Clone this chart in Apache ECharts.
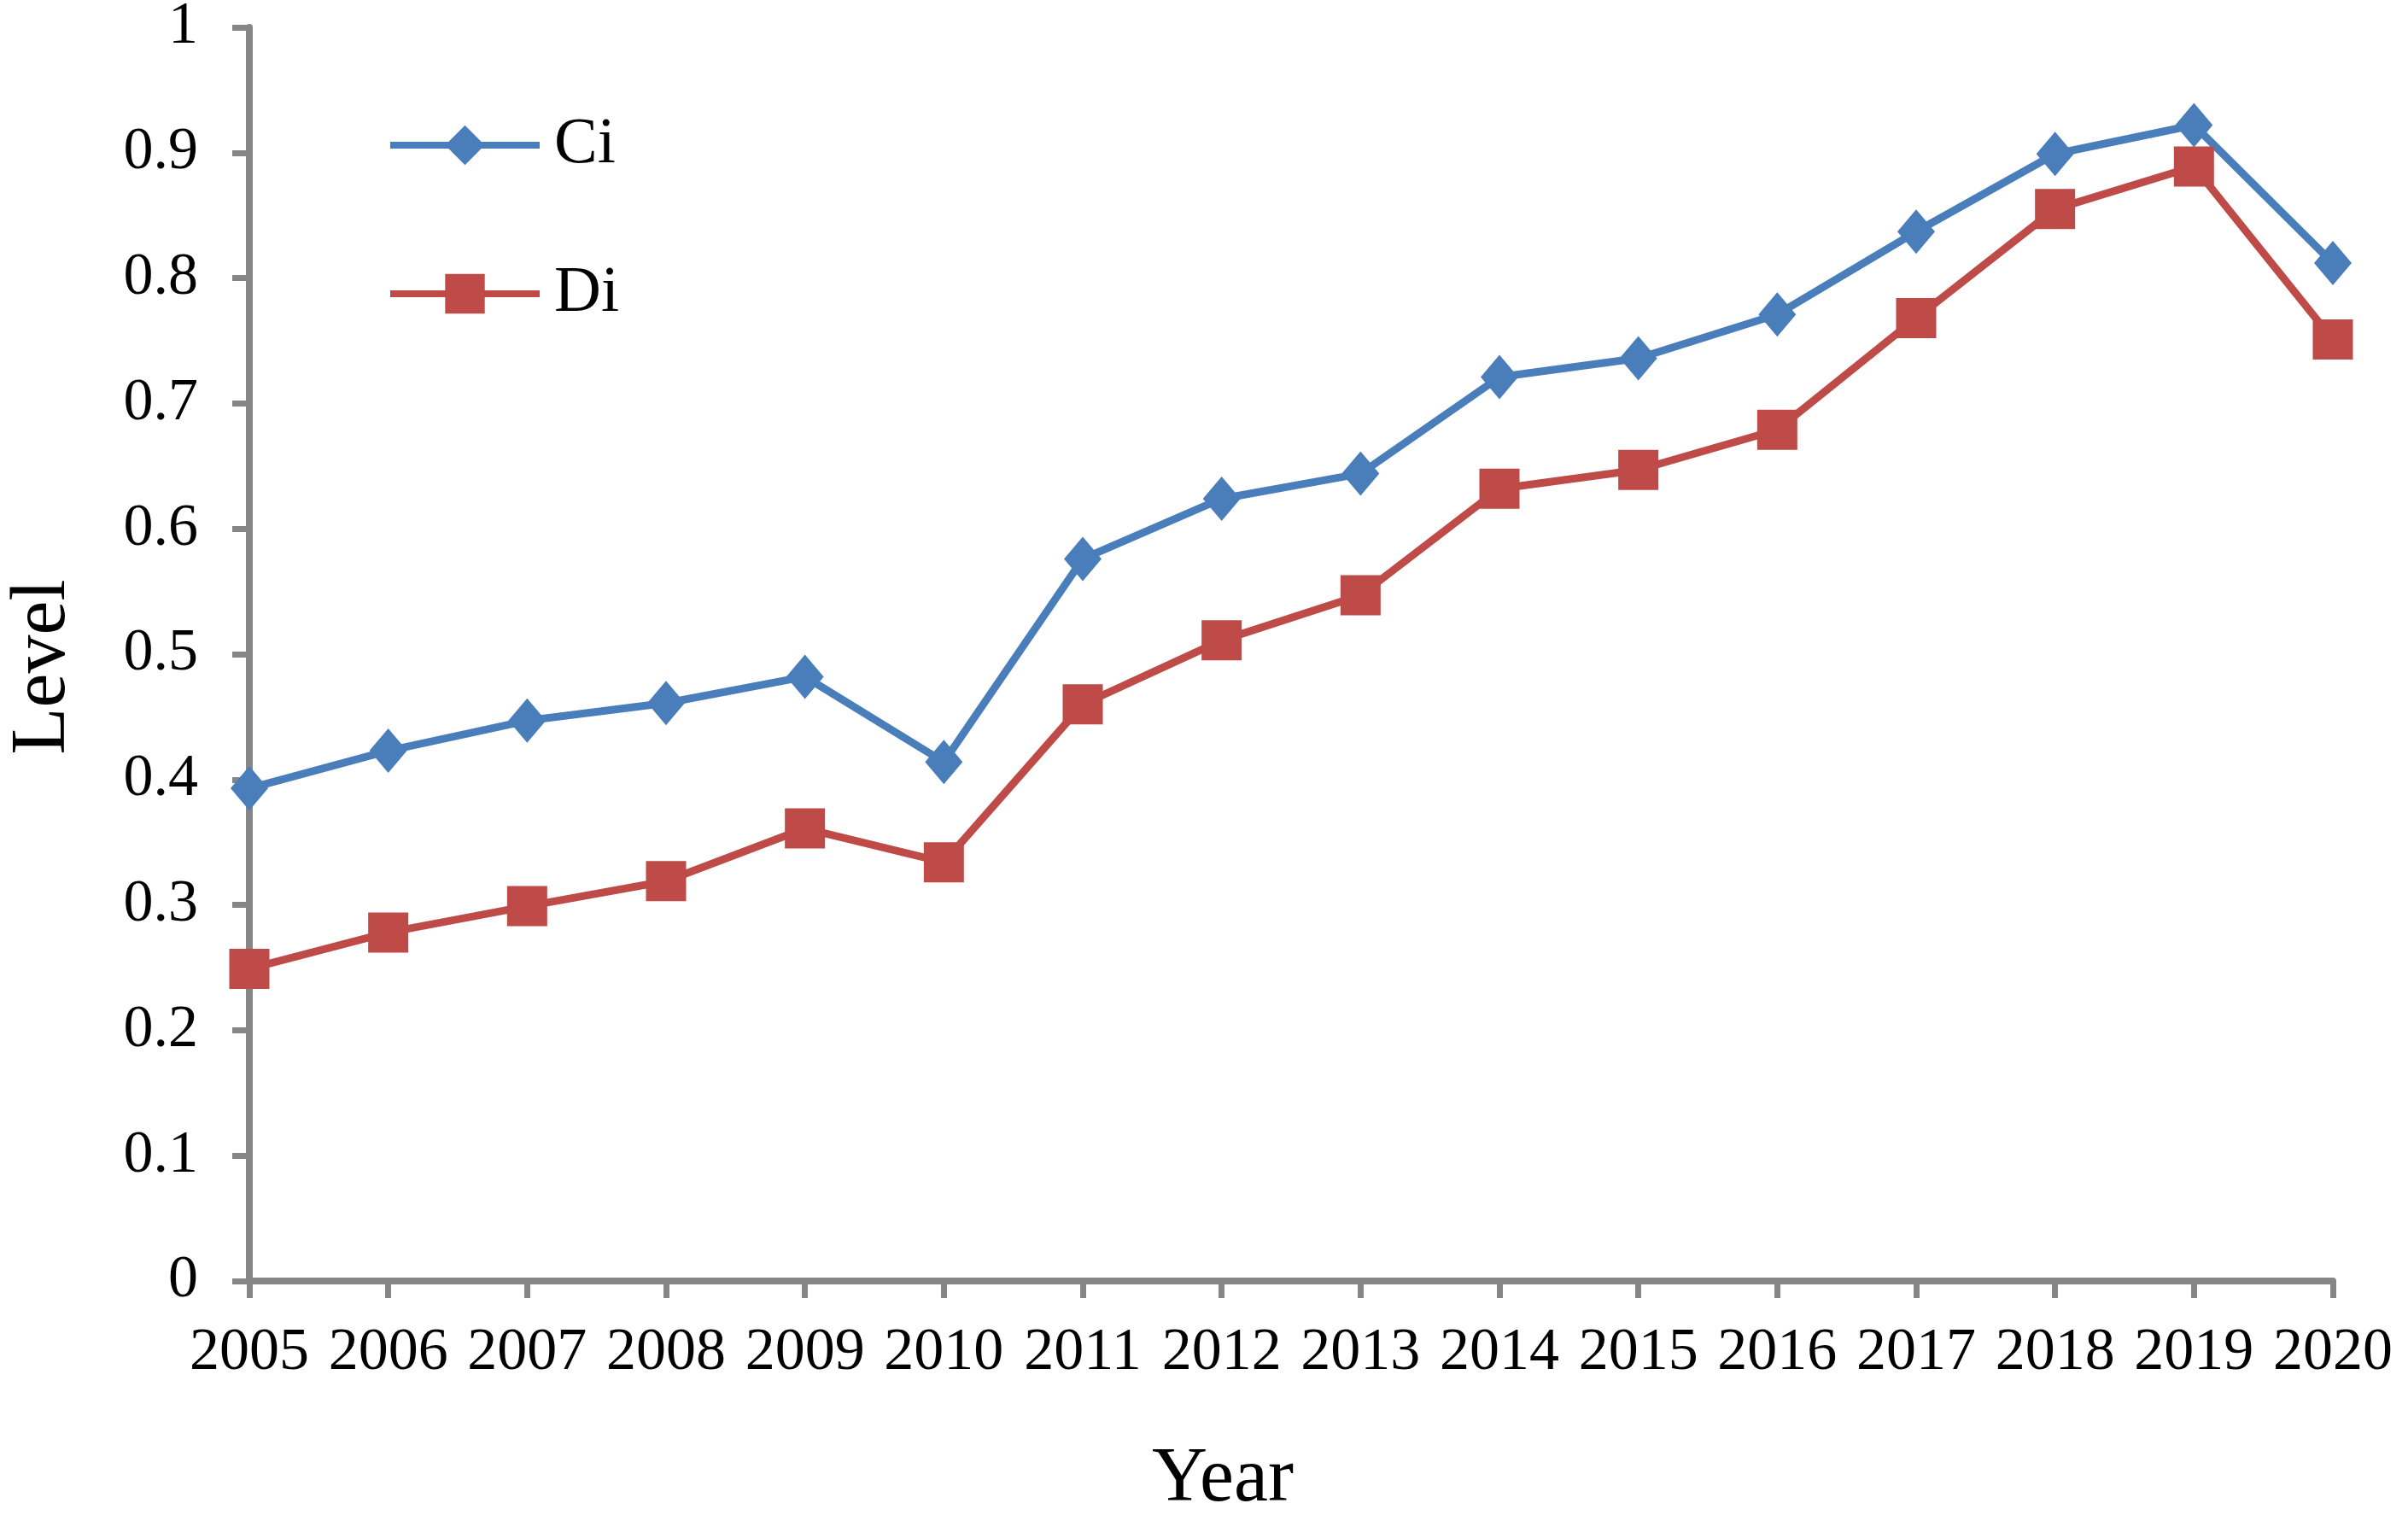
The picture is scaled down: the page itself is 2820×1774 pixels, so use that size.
<!DOCTYPE html>
<html>
<head>
<meta charset="utf-8">
<script src="https://cdn.jsdelivr.net/npm/echarts@6/dist/echarts.min.js"></script>
<style>
html,body{margin:0;padding:0;background:#fff;}
#chart{width:2820px;height:1774px;}
</style>
</head>
<body>
<div id="chart"></div>
<script>
const years = ['2005','2006','2007','2008','2009','2010','2011','2012','2013','2014','2015','2016','2017','2018','2019','2020'];
const ciValues = [0.393,0.423,0.447,0.461,0.482,0.414,0.576,0.624,0.644,0.721,0.736,0.771,0.837,0.899,0.922,0.812];
const diValues = [0.249,0.278,0.299,0.319,0.361,0.334,0.460,0.511,0.547,0.632,0.647,0.679,0.768,0.855,0.889,0.751];
const seriesNames = ['Ci','Di'];
const xTitle = 'Year';
const yTitle = 'Level';

const FONT = "'Liberation Serif','Times New Roman',serif";
const AXIS_COLOR = '#868686';
const chart = echarts.init(document.getElementById('chart'));
chart.setOption({
  backgroundColor: '#ffffff',
  animation: false,
  grid: { left: 292, right: 88, top: 32, bottom: 274, containLabel: false, outerBoundsMode: 'none' },
  legend: {
    orient: 'vertical',
    left: 448,
    top: 127,
    itemWidth: 175,
    itemHeight: 58,
    itemGap: 98,
    data: seriesNames,
    lineStyle: { width: 8 },
    textStyle: { fontFamily: FONT, fontSize: 76, color: '#000', lineHeight: 58, padding: [0,0,0,12] }
  },
  xAxis: {
    type: 'category',
    data: years,
    boundaryGap: false,
    name: xTitle,
    nameLocation: 'middle',
    nameGap: 188,
    nameTextStyle: { fontFamily: FONT, fontSize: 90, color: '#000', padding: [0, 160, 0, 0] },
    axisLine: { lineStyle: { color: AXIS_COLOR, width: 8 } },
    axisTick: { show: true, alignWithLabel: true, length: 20, lineStyle: { color: AXIS_COLOR, width: 7 } },
    axisLabel: { fontFamily: FONT, fontSize: 70, color: '#000', margin: 50, interval: 0 },
    splitLine: { show: false }
  },
  yAxis: {
    type: 'value',
    min: 0,
    max: 1,
    interval: 0.1,
    name: yTitle,
    nameLocation: 'middle',
    nameGap: 196,
    nameTextStyle: { fontFamily: FONT, fontSize: 90, color: '#000', padding: [0, 30, 0, 0] },
    axisLine: { show: true, lineStyle: { color: AXIS_COLOR, width: 8 } },
    axisTick: { show: true, length: 20, lineStyle: { color: AXIS_COLOR, width: 7 } },
    axisLabel: { fontFamily: FONT, fontSize: 70, color: '#000', margin: 60 },
    splitLine: { show: false }
  },
  series: [
    {
      name: seriesNames[0], type: 'line', data: ciValues,
      symbol: 'diamond', symbolSize: [44, 52],
      lineStyle: { color: '#4A7EBB', width: 9 },
      itemStyle: { color: '#4A7EBB' }
    },
    {
      name: seriesNames[1], type: 'line', data: diValues,
      symbol: 'rect', symbolSize: 47,
      lineStyle: { color: '#BE4B48', width: 9 },
      itemStyle: { color: '#BE4B48' }
    }
  ]
});
</script>
</body>
</html>
